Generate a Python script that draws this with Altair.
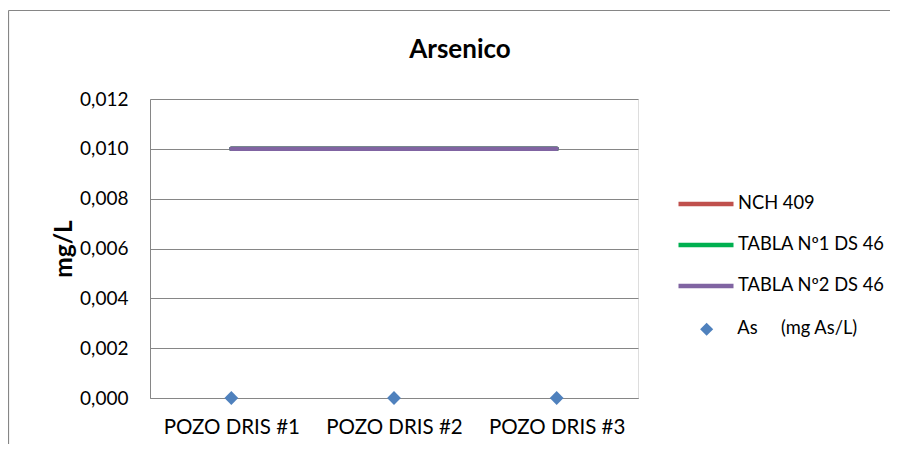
import altair as alt
import pandas as pd

# ---- data ----
chart_title = "Arsenico"
categories = ["POZO DRIS #1", "POZO DRIS #2", "POZO DRIS #3"]
nch_409 = [0.010, 0.010, 0.010]
tabla_1_ds46 = [0.010, 0.010, 0.010]
tabla_2_ds46 = [0.010, 0.010, 0.010]
arsenico = [0.000, 0.000, 0.000]
line_names = ["NCH 409", "TABLA Nº1 DS 46", "TABLA Nº2 DS 46"]
line_colors = ["#C0504D", "#00B050", "#8064A2"]
point_name = "As\u00a0\u00a0\u00a0\u00a0\u00a0(mg As/L)"
point_color = "#4F81BD"
y_ticks = [0.000, 0.002, 0.004, 0.006, 0.008, 0.010, 0.012]

FONT = "Lato"
GRAY = "#868686"

line_series = [nch_409, tabla_1_ds46, tabla_2_ds46]
line_frames = [pd.DataFrame({"cat": categories, "val": vals, "serie": name})
               for name, vals in zip(line_names, line_series)]
points_df = pd.DataFrame({"cat": categories, "val": arsenico, "serie2": point_name})

x_enc = alt.X("cat:N", sort=categories, scale=alt.Scale(type="point", padding=0.5),
              axis=alt.Axis(title=None, labelAngle=0, ticks=False, grid=False,
                            domainColor=GRAY, labelFont=FONT, labelFontSize=20.5,
                            labelColor="black", labelPadding=19))
y_enc = alt.Y("val:Q", scale=alt.Scale(domain=[0, 0.012], nice=False, zero=True),
              axis=alt.Axis(title="mg/L", values=y_ticks, ticks=False,
                            domainColor=GRAY, gridColor=GRAY, gridOpacity=1,
                            labelExpr="replace(format(datum.value, '.3f'), '.', ',')",
                            labelFont=FONT, labelFontSize=19, labelColor="black",
                            labelPadding=22, titleFont=FONT, titleFontSize=24.5,
                            titleFontWeight="bold", titleColor="black", titlePadding=3))

line_legend = alt.Legend(
    title=None, orient="none", legendX=526, legendY=75,
    labelFont=FONT, labelFontSize=18.3, labelColor="black",
    labelOffset=2, rowPadding=2, padding=0,
    symbolType="stroke", symbolSize=3025, symbolStrokeWidth=4.5,
)
color_enc = alt.Color("serie:N", scale=alt.Scale(domain=line_names, range=line_colors),
                      legend=line_legend)

point_legend = alt.Legend(
    title=None, orient="none", legendX=547.5, legendY=221,
    labelFont=FONT, labelFontSize=18.3, labelColor="black",
    labelOffset=21.5, padding=0,
    symbolFillColor=point_color, symbolStrokeColor=point_color,
    symbolStrokeWidth=0, symbolSize=170, symbolOpacity=1,
)
shape_enc = alt.Shape("serie2:N", scale=alt.Scale(domain=[point_name], range=["diamond"]),
                      legend=point_legend)

frame_df = pd.DataFrame({"k": [0]})
frame_left = alt.Chart(frame_df).mark_rule(color=GRAY, strokeWidth=1.2).encode(
    x=alt.value(-141.5), y=alt.value(-88.5), y2=alt.value(360))
frame_top = alt.Chart(frame_df).mark_rule(color=GRAY, strokeWidth=1.2).encode(
    x=alt.value(-141.5), x2=alt.value(740), y=alt.value(-88.5))

title_mark = alt.Chart(frame_df).mark_text(
    text=chart_title, font=FONT, fontSize=26, fontWeight="bold", color="black",
    align="center", baseline="alphabetic").encode(
    x=alt.value(310), y=alt.value(-41))

line_layers = [
    alt.Chart(df).mark_line(strokeWidth=4.5, strokeCap="round").encode(
        x=x_enc, y=y_enc, color=color_enc)
    for df in line_frames
]
points = alt.Chart(points_df).mark_point(filled=True, opacity=1, size=190,
                                          color=point_color).encode(
    x=x_enc, y=y_enc, shape=shape_enc)

chart = alt.layer(frame_left, frame_top, title_mark, *line_layers, points).properties(
    width=488, height=299,
    padding={"left": 142, "top": 91, "right": 252, "bottom": 46},
    autosize=alt.AutoSizeParams(type="none"),
).configure_view(stroke=None).configure(background="white")

chart.save("out.html", embed_options={"renderer": "svg", "actions": False})
